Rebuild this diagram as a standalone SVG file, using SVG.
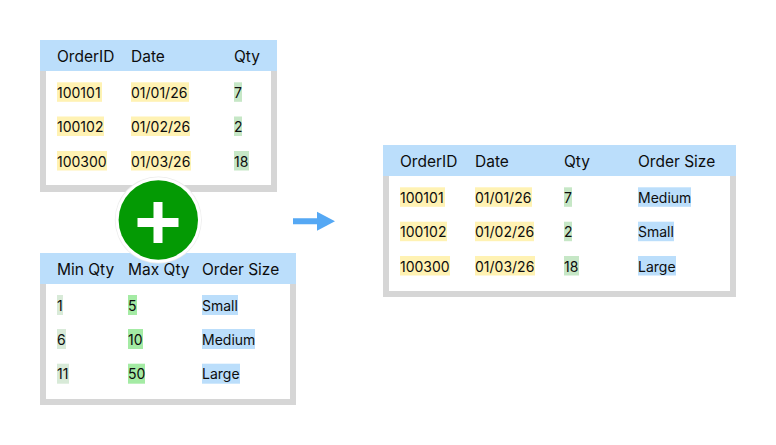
<svg xmlns="http://www.w3.org/2000/svg" width="776" height="445" viewBox="0 0 776 445">
<style>
.frame{fill:#d6d6d6}
.body{fill:#ffffff}
.head{fill:#bbdefb}
.th{font-family:Inter,"Noto Sans",sans-serif;font-size:15.5px;fill:#0d0d0d}
.td{font-family:Inter,"Noto Sans",sans-serif;font-size:14px;fill:#0d0d0d}
.hy{fill:#fff2b3}
.hg{fill:#c6e7c6}
.hl{fill:#d8ead8}
.hb{fill:#a4eba4}
.hs{fill:#bbdefb}
</style>
<rect width="776" height="445" fill="#ffffff"/>
<g id="orders">
<rect class="frame" x="40" y="40" width="237" height="152"/>
<rect class="body" x="46" y="71" width="225" height="114"/>
<rect class="head" x="40" y="40" width="237" height="31"/>
<text class="th" x="57" y="62">OrderID</text>
<text class="th" x="131" y="62">Date</text>
<text class="th" x="234" y="62">Qty</text>
<rect class="hy" x="57" y="82.3" width="45" height="19.5"/>
<rect class="hy" x="131" y="82.3" width="58" height="19.5"/>
<rect class="hg" x="234" y="82.3" width="8" height="19.5"/>
<rect class="hy" x="57" y="116.5" width="47" height="19.5"/>
<rect class="hy" x="131" y="116.5" width="59" height="19.5"/>
<rect class="hg" x="234" y="116.5" width="8" height="19.5"/>
<rect class="hy" x="57" y="151" width="50" height="19.5"/>
<rect class="hy" x="131" y="151" width="60" height="19.5"/>
<rect class="hg" x="234" y="151" width="15" height="19.5"/>
<text class="td" x="57" y="97.5">100101</text>
<text class="td" x="131" y="97.5">01/01/26</text>
<text class="td" x="234" y="97.5">7</text>
<text class="td" x="57" y="132">100102</text>
<text class="td" x="131" y="132">01/02/26</text>
<text class="td" x="234" y="132">2</text>
<text class="td" x="57" y="166.5">100300</text>
<text class="td" x="131" y="166.5">01/03/26</text>
<text class="td" x="234" y="166.5">18</text>
</g>
<g id="sizes">
<rect class="frame" x="40" y="253" width="256" height="152"/>
<rect class="body" x="46" y="284" width="244" height="115"/>
<rect class="head" x="40" y="253" width="256" height="31"/>
<text class="th" x="57" y="275">Min Qty</text>
<text class="th" x="128" y="275">Max Qty</text>
<text class="th" x="202" y="275">Order Size</text>
<rect class="hl" x="57" y="295" width="6" height="20"/>
<rect class="hb" x="128" y="295" width="9" height="20"/>
<rect class="hs" x="202" y="295" width="36" height="20"/>
<rect class="hl" x="57" y="329" width="9" height="20"/>
<rect class="hb" x="128" y="329" width="15" height="20"/>
<rect class="hs" x="202" y="329" width="53" height="20"/>
<rect class="hl" x="57" y="363.7" width="12" height="20"/>
<rect class="hb" x="128" y="363.7" width="17" height="20"/>
<rect class="hs" x="202" y="363.7" width="38" height="20"/>
<text class="td" x="57" y="310.5">1</text>
<text class="td" x="128" y="310.5">5</text>
<text class="td" x="202" y="310.5">Small</text>
<text class="td" x="57" y="344.5">6</text>
<text class="td" x="128" y="344.5">10</text>
<text class="td" x="202" y="344.5">Medium</text>
<text class="td" x="57" y="379">11</text>
<text class="td" x="128" y="379">50</text>
<text class="td" x="202" y="379">Large</text>
</g>
<g id="plus">
<circle cx="158.3" cy="220" r="43.5" fill="#ececec"/>
<circle cx="158.3" cy="220" r="42.8" fill="#ffffff"/>
<circle cx="158.3" cy="220" r="39.7" fill="#049a04"/>
<rect x="137.5" y="218" width="41" height="9" fill="#ffffff"/>
<rect x="153.5" y="202" width="9" height="41" fill="#ffffff"/>
</g>
<g id="connectors">
<path d="M293 218.3 H317 V211.7 L335 221.3 L317 230.7 V224.3 H293 Z" fill="#55a8f4"/>
</g>
<g id="result">
<rect class="frame" x="383" y="145" width="353" height="152"/>
<rect class="body" x="389" y="176" width="341" height="115"/>
<rect class="head" x="383" y="145" width="353" height="31"/>
<text class="th" x="400" y="167">OrderID</text>
<text class="th" x="475" y="167">Date</text>
<text class="th" x="564" y="167">Qty</text>
<text class="th" x="638" y="167">Order Size</text>
<rect class="hy" x="400" y="187.3" width="45" height="19.5"/>
<rect class="hy" x="475" y="187.3" width="57" height="19.5"/>
<rect class="hg" x="564" y="187.3" width="8" height="19.5"/>
<rect class="hs" x="638" y="187.3" width="53" height="19.5"/>
<rect class="hy" x="400" y="221.7" width="47" height="19.5"/>
<rect class="hy" x="475" y="221.7" width="59" height="19.5"/>
<rect class="hg" x="564" y="221.7" width="8" height="19.5"/>
<rect class="hs" x="638" y="221.7" width="36" height="19.5"/>
<rect class="hy" x="400" y="256" width="50" height="19.5"/>
<rect class="hy" x="475" y="256" width="60" height="19.5"/>
<rect class="hg" x="564" y="256" width="15" height="19.5"/>
<rect class="hs" x="638" y="256" width="38" height="19.5"/>
<text class="td" x="400" y="202.5">100101</text>
<text class="td" x="475" y="202.5">01/01/26</text>
<text class="td" x="564" y="202.5">7</text>
<text class="td" x="638" y="202.5">Medium</text>
<text class="td" x="400" y="237">100102</text>
<text class="td" x="475" y="237">01/02/26</text>
<text class="td" x="564" y="237">2</text>
<text class="td" x="638" y="237">Small</text>
<text class="td" x="400" y="271.5">100300</text>
<text class="td" x="475" y="271.5">01/03/26</text>
<text class="td" x="564" y="271.5">18</text>
<text class="td" x="638" y="271.5">Large</text>
</g>
</svg>
